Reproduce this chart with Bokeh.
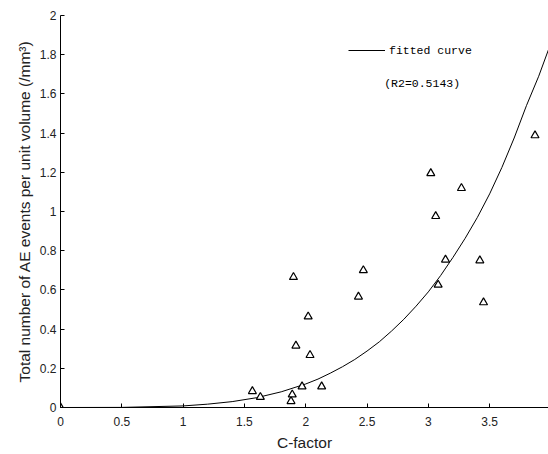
from bokeh.plotting import figure
from bokeh.models import (Range1d, FixedTicker, NumeralTickFormatter, Legend,
                          LegendItem, Label)
from bokeh.embed import file_html
from bokeh.resources import INLINE

# measured data points (C-factor, AE events per unit volume)
c_factor = [0.0, 1.565, 1.63, 1.88, 1.89, 1.90, 1.92, 1.97, 2.02, 2.035, 2.13,
            2.43, 2.47, 3.02, 3.06, 3.08, 3.14, 3.27, 3.42, 3.45, 3.87]
ae_events = [0.0, 0.083, 0.053, 0.032, 0.066, 0.665, 0.315, 0.107, 0.464, 0.267, 0.107,
             0.565, 0.70, 1.195, 0.976, 0.626, 0.754, 1.119, 0.75, 0.536, 1.388]

# fitted curve
curve_x = [0, 0.5, 1.0, 1.2, 1.4, 1.6, 1.8, 2.0, 2.1, 2.2, 2.3, 2.4, 2.5, 2.6,
           2.7, 2.8, 2.9, 3.0, 3.1, 3.2, 3.3, 3.4, 3.5, 3.6, 3.7, 3.8, 3.9, 4.0]
curve_y = [0, 0.0005, 0.008, 0.017, 0.03, 0.05, 0.08, 0.12, 0.145, 0.175, 0.208,
           0.245, 0.288, 0.335, 0.39, 0.45, 0.517, 0.59, 0.673, 0.765, 0.863,
           0.97, 1.09, 1.225, 1.375, 1.54, 1.69, 1.86]

x_ticks = [0, 0.5, 1, 1.5, 2, 2.5, 3, 3.5, 4]
y_ticks = [0, 0.2, 0.4, 0.6, 0.8, 1.0, 1.2, 1.4, 1.6, 1.8, 2.0]

legend_label = "fitted curve"
r2_text = "(R2=0.5143)"

FONT = "Liberation Sans"
MONO = "Liberation Mono"

p = figure(width=548, height=454, output_backend="svg", toolbar_location=None,
           x_range=Range1d(0, 3.98), y_range=Range1d(0, 2),
           min_border_left=60, min_border_right=0, min_border_top=15,
           min_border_bottom=47)
p.outline_line_color = None
p.xgrid.grid_line_color = None
p.ygrid.grid_line_color = None
p.background_fill_color = "white"
p.border_fill_color = "white"

for ax in (p.xaxis[0], p.yaxis[0]):
    ax.axis_line_color = "black"
    ax.axis_line_width = 1
    ax.major_tick_in = 4
    ax.major_tick_out = 0
    ax.minor_tick_line_color = None
    ax.major_tick_line_color = "black"
    ax.major_label_text_font = FONT
    ax.major_label_text_font_size = "12px"
    ax.major_label_text_color = "#222222"
    ax.axis_label_text_font = FONT
    ax.axis_label_text_font_size = "15.5px"
    ax.axis_label_text_font_style = "normal"
    ax.axis_label_text_color = "#222222"
    ax.formatter = NumeralTickFormatter(format="0.[0]")

p.xaxis.ticker = FixedTicker(ticks=x_ticks)
p.yaxis.ticker = FixedTicker(ticks=y_ticks)
p.xaxis.axis_label = "C-factor"
p.yaxis.axis_label = "Total number of AE events per unit volume (/mm³)"
p.xaxis.major_label_standoff = 9
p.yaxis.major_label_standoff = 4
p.xaxis.axis_label_standoff = 5
p.yaxis.axis_label_standoff = 4

line_r = p.line(curve_x, curve_y, line_color="black", line_width=1)
p.scatter(c_factor, ae_events, marker="triangle", size=8, line_color="black",
          line_width=1.2, fill_color="white")

legend = Legend(items=[LegendItem(label=legend_label, renderers=[line_r])],
                location=(288, 347), padding=0, margin=0, spacing=0,
                glyph_width=37, glyph_height=20, label_height=20,
                label_standoff=4, border_line_alpha=0, background_fill_alpha=0,
                label_text_font=MONO, label_text_font_size="11.5px",
                label_text_color="black")
p.add_layout(legend)

p.add_layout(Label(x=2.64, y=1.653, text=r2_text, text_font=MONO,
                   text_font_size="11.5px", text_color="black",
                   text_baseline="middle"))

open("out.html", "w").write(file_html(p, INLINE))
